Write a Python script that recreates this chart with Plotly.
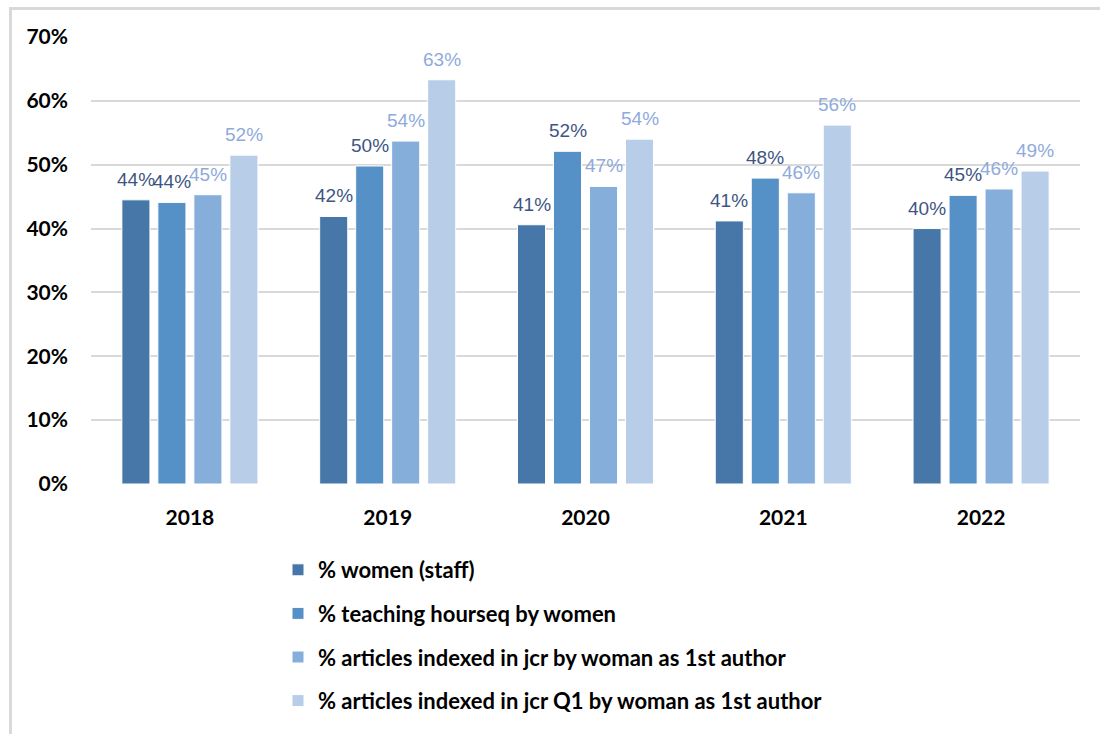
import plotly.graph_objects as go

# Share of women across indicators, per year
years = ["2018", "2019", "2020", "2021", "2022"]
series_names = [
    "% women (staff)",
    "% teaching hourseq by women",
    "% articles indexed in jcr by woman as 1st author",
    "% articles indexed in jcr Q1 by woman as 1st author",
]
staff = [0.445, 0.419, 0.406, 0.412, 0.400]
teaching = [0.441, 0.498, 0.521, 0.479, 0.452]
articles_jcr = [0.453, 0.537, 0.466, 0.456, 0.462]
articles_q1 = [0.515, 0.633, 0.540, 0.562, 0.490]

series_values = [staff, teaching, articles_jcr, articles_q1]
bar_colors = ["#4677A8", "#5590C7", "#86AEDB", "#B7CDE8"]
label_colors = ["#3E5582", "#3E5582", "#8FAADC", "#8FAADC"]

W, H = 1100, 734
M_L, M_R, M_T, M_B = 91, 20, 37, 250
plot_w = W - M_L - M_R
plot_h = H - M_T - M_B


def px_x(p):
    return (p - M_L) / plot_w


def px_y(p):
    return (H - M_B - p) / plot_h


# bar geometry in category units
bar_w = 0.142
pitch = 0.182
group_start = -0.344

fig = go.Figure()
annotations = []
for k, (name, vals) in enumerate(zip(series_names, series_values)):
    off = group_start + k * pitch
    xs = list(range(len(years)))
    fig.add_trace(go.Bar(
        x=xs, y=vals, name=name,
        width=bar_w, offset=off,
        marker=dict(color=bar_colors[k], line=dict(color="white", width=1)),
        legendgroup=name,
    ))
    for i, v in enumerate(vals):
        annotations.append(dict(
            x=i + off + bar_w / 2, y=v, xref="x", yref="y",
            text=f"{round(v * 100):.0f}%", showarrow=False,
            yanchor="bottom", yshift=8,
            font=dict(family="Liberation Sans", size=19, color=label_colors[k]),
        ))

bold_font = dict(family="Lato", size=21, color="#000000", weight="bold")
legend_font = dict(family="Lato", size=22, color="#000000", weight="bold")

fig.update_layout(
    width=W, height=H,
    margin=dict(l=M_L, r=M_R, t=M_T, b=M_B, autoexpand=False),
    paper_bgcolor="white", plot_bgcolor="white",
    barmode="overlay",
    showlegend=True,
    legend=dict(
        x=px_x(278), y=px_y(549), xanchor="left", yanchor="top",
        orientation="v", tracegroupgap=12,
        font=legend_font,
        bgcolor="rgba(0,0,0,0)",
    ),
    annotations=annotations,
    xaxis=dict(
        range=[-0.5, len(years) - 0.5],
        tickvals=list(range(len(years))), ticktext=years,
        showgrid=False, zeroline=False, showline=False,
        ticks="", ticklabelstandoff=19,
        tickfont=bold_font,
    ),
    yaxis=dict(
        range=[0, 0.70], dtick=0.10, tickformat=".0%",
        showgrid=True, gridcolor="#D9D9D9", gridwidth=2,
        zeroline=False, showline=False, ticks="", ticklabelstandoff=22,
        tickfont=bold_font,
    ),
    shapes=[
        dict(type="line", xref="paper", yref="paper",
             x0=px_x(10), x1=px_x(W + 5), y0=px_y(8.5), y1=px_y(8.5),
             line=dict(color="#D9D9D9", width=3)),
        dict(type="line", xref="paper", yref="paper",
             x0=px_x(10.5), x1=px_x(10.5), y0=px_y(7), y1=px_y(H + 5),
             line=dict(color="#D9D9D9", width=3)),
    ],
)

fig.write_html("out.html")
